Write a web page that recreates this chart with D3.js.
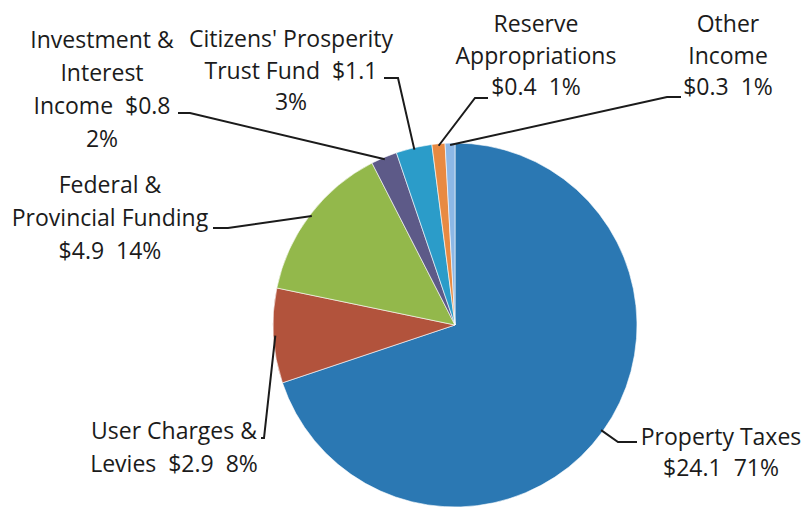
<!DOCTYPE html>
<html>
<head>
<meta charset="utf-8">
<script src="https://cdn.jsdelivr.net/npm/d3@7"></script>
<style>
  body { margin: 0; background: #fff; }
  text { font-family: "Open Sans", Lato, sans-serif; fill: #1b1b1b; white-space: pre; }
</style>
</head>
<body>
<div id="chart"></div>
<script>
// revenue sources ($ millions), in pie order starting at 12 o'clock
var names = ["Property Taxes", "User Charges & Levies", "Federal & Provincial Funding",
             "Investment & Interest Income", "Citizens' Prosperity Trust Fund",
             "Reserve Appropriations", "Other Income"];
var values = [24.1, 2.9, 4.9, 0.8, 1.1, 0.4, 0.3];
var percents = ["71%", "8%", "14%", "2%", "3%", "1%", "1%"];
var colors = ["#2b78b3", "#b2533c", "#93b84b", "#5d5a88", "#2b9cc9", "#e88a42", "#8db8e6"];

// how each label is broken into lines
var labelLines = [
  ["Property Taxes", "$24.1  71%"],
  ["User Charges &", "Levies  $2.9  8%"],
  ["Federal &", "Provincial Funding", "$4.9  14%"],
  ["Investment &", "Interest", "Income  $0.8", "2%"],
  ["Citizens' Prosperity", "Trust Fund  $1.1", "3%"],
  ["Reserve", "Appropriations", "$0.4  1%"],
  ["Other", "Income", "$0.3  1%"]
];

var width = 803, height = 510;
var cx = 455, cy = 325, radius = 182;

// label placement: centre x, first baseline, line step, leader start + elbow
var layout = [
  {x: 721, y: 445, step: 31, lead: [[637, 442], [618, 442]]},
  {x: 174, y: 439, step: 33, lead: [[261, 438], [264, 438]]},
  {x: 110, y: 193, step: 33, lead: [[213, 228], [228, 228]]},
  {x: 102, y: 48,  step: 33, lead: [[178, 113], [190, 113]]},
  {x: 291, y: 47,  step: 31.5, lead: [[384, 78], [398, 78]]},
  {x: 536, y: 32,  step: 31.5, lead: [[488, 98], [475, 98]]},
  {x: 728, y: 32,  step: 31.5, lead: [[681, 97], [667, 97]]}
];

var svg = d3.select("#chart").append("svg")
    .attr("width", width)
    .attr("height", height);

var pie = d3.pie().sort(null).value(function(d) { return d; });
var arcs = pie(values);

var arc = d3.arc().innerRadius(0).outerRadius(radius);
var edge = d3.arc().innerRadius(radius - 2).outerRadius(radius - 2);

var g = svg.append("g")
    .attr("transform", "translate(" + cx + "," + cy + ")");

g.selectAll("path.slice")
    .data(arcs)
    .enter()
    .append("path")
      .attr("class", "slice")
      .attr("d", arc)
      .attr("fill", function(d, i) { return colors[i]; })
      .attr("stroke", "#fff")
      .attr("stroke-width", 0.6);

// leader lines
var line = d3.line();
svg.selectAll("path.leader")
    .data(arcs)
    .enter()
    .append("path")
      .attr("class", "leader")
      .attr("fill", "none")
      .attr("stroke", "#1b1b1b")
      .attr("stroke-width", 2)
      .attr("d", function(d, i) {
        var c = edge.centroid(d);
        var pts = layout[i].lead.concat([[c[0] + cx, c[1] + cy]]);
        return line(pts);
      });

// labels
labelLines.forEach(function(lines, i) {
  var t = svg.append("text")
      .attr("text-anchor", "middle")
      .attr("xml:space", "preserve")
      .style("font-size", "23px");
  lines.forEach(function(s, j) {
    t.append("tspan")
      .attr("x", layout[i].x)
      .attr("y", layout[i].y + j * layout[i].step)
      .text(s);
  });
});
</script>
</body>
</html>
